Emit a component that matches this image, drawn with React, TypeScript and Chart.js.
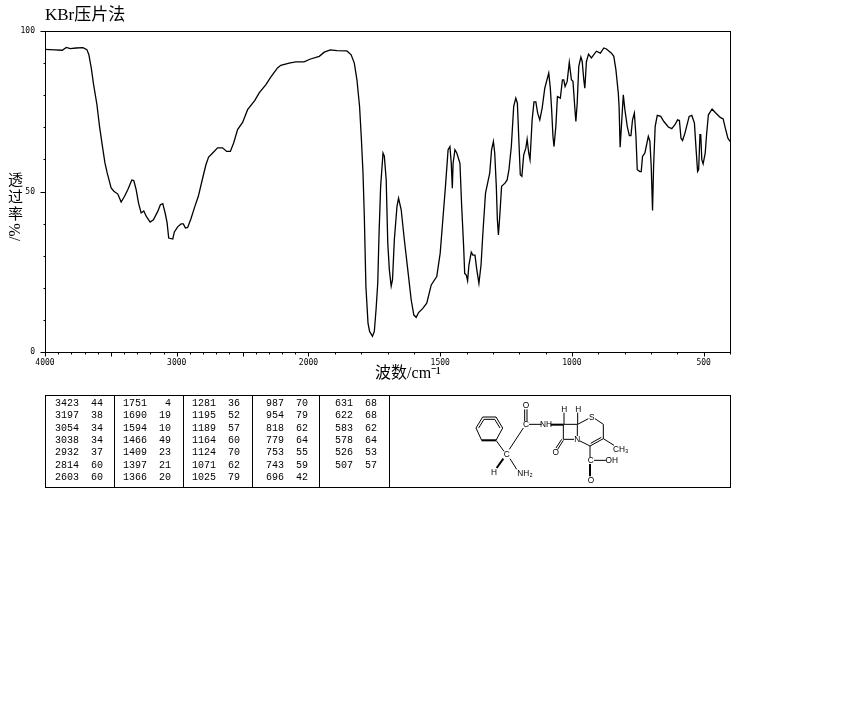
import React, { useEffect, useRef } from "react";
import { Chart, LinearScale, registerables } from "chart.js";

Chart.register(...registerables);

const wavenumbers = [
  4000, 3965, 3927, 3869, 3838, 3808, 3763, 3712, 3682, 3667, 3649, 3631, 3606, 3586, 3566, 3545, 3528, 3498, 3477, 3447,
  3422, 3396, 3371, 3341, 3326, 3308, 3290, 3270, 3250, 3232, 3202, 3177, 3144, 3124, 3106, 3088, 3073, 3061, 3030, 3018,
  2993, 2967, 2950, 2934, 2917, 2892, 2866, 2836, 2803, 2778, 2758, 2727, 2690, 2652, 2621, 2593, 2568, 2538, 2500, 2462,
  2407, 2374, 2323, 2285, 2235, 2210, 2147, 2096, 2033, 1995, 1959, 1940, 1917, 1892, 1854, 1838, 1826, 1816, 1806, 1799,
  1793, 1788, 1782, 1774, 1768, 1757, 1750, 1743, 1737, 1732, 1726, 1717, 1712, 1705, 1699, 1693, 1686, 1681, 1674, 1664,
  1658, 1648, 1636, 1623, 1610, 1600, 1591, 1582, 1566, 1551, 1534, 1513, 1500, 1490, 1480, 1470, 1463, 1458, 1454, 1451,
  1444, 1437, 1425, 1419, 1411, 1407, 1401, 1396, 1391, 1382, 1376, 1368, 1361, 1353, 1345, 1338, 1328, 1312, 1305, 1298,
  1293, 1287, 1283, 1279, 1274, 1267, 1254, 1246, 1239, 1230, 1221, 1213, 1207, 1201, 1196, 1190, 1183, 1175, 1170, 1164,
  1159, 1151, 1144, 1137, 1130, 1122, 1113, 1103, 1088, 1082, 1077, 1072, 1068, 1061, 1055, 1044, 1036, 1031, 1026, 1018,
  1010, 1002, 996, 989, 985, 980, 974, 966, 961, 955, 951, 945, 937, 926, 907, 892, 879, 869, 850, 841,
  833, 824, 821, 817, 813, 805, 799, 790, 782, 776, 770, 763, 757, 752, 742, 737, 732, 723, 710, 704,
  699, 694, 690, 684, 676, 663, 651, 634, 621, 609, 599, 592, 586, 580, 571, 555, 545, 535, 529, 523,
  519, 514, 511, 507, 502, 494, 489, 482, 468, 456, 437, 426, 418, 408, 400,
];

const transmittance = [
  94.3, 94.2, 94.1, 94.0, 94.9, 94.5, 94.7, 94.8, 94.2, 92.6, 88.5, 83.3, 77.1, 70.3, 64.6, 58.9, 55.8, 51.1, 50.1, 49.2,
  46.7, 48.5, 50.6, 53.6, 53.4, 50.6, 46.4, 43.3, 43.9, 42.3, 40.5, 41.2, 43.8, 45.9, 46.2, 43.3, 40.2, 35.5, 35.2, 37.4,
  39.0, 39.9, 39.9, 38.6, 38.8, 41.5, 44.9, 48.5, 54.2, 58.4, 60.7, 62.0, 63.6, 63.6, 62.5, 62.5, 65.1, 69.3, 71.5, 75.5,
  78.4, 80.7, 83.3, 85.7, 88.5, 89.3, 90.0, 90.4, 90.4, 91.2, 92.1, 93.4, 94.1, 93.9, 93.8, 92.6, 90.0, 84.8, 76.5, 66.1,
  55.8, 42.3, 20.5, 9.0, 6.4, 4.9, 6.4, 13.7, 21.5, 37.1, 51.6, 62.0, 61.0, 53.7, 34.0, 25.6, 20.5, 22.5, 35.0, 45.4,
  47.9, 44.3, 34.9, 25.6, 16.2, 11.5, 10.8, 12.3, 13.6, 15.2, 20.9, 23.5, 30.8, 41.2, 51.6, 63.0, 64.0, 58.8, 51.0, 58.8,
  63.0, 62.0, 58.8, 46.4, 32.8, 24.5, 24.0, 22.2, 27.1, 31.1, 30.2, 30.2, 25.6, 21.4, 27.1, 37.0, 49.5, 55.7, 63.0, 65.6,
  62.0, 51.6, 41.2, 36.5, 42.2, 51.6, 52.6, 53.6, 56.8, 64.0, 76.5, 79.1, 77.5, 65.1, 55.2, 54.7, 61.4, 63.5, 66.3, 62.0,
  59.9, 72.3, 77.9, 77.9, 74.4, 72.3, 76.0, 82.2, 86.9, 82.2, 75.5, 67.2, 64.0, 70.3, 79.6, 79.1, 84.8, 84.8, 82.7, 84.3,
  90.2, 84.8, 84.3, 76.0, 71.8, 77.5, 89.0, 91.9, 90.5, 84.8, 82.2, 90.5, 92.8, 91.6, 93.7, 93.1, 94.7, 94.4, 93.1, 92.1,
  87.9, 80.7, 76.5, 63.8, 69.2, 80.1, 75.5, 70.3, 67.4, 67.4, 72.3, 74.4, 67.2, 56.8, 56.2, 56.2, 60.9, 62.0, 67.2, 65.6,
  57.8, 44.1, 57.8, 70.3, 73.7, 73.4, 71.8, 70.1, 69.6, 70.8, 72.3, 72.1, 66.6, 65.9, 68.2, 73.4, 73.7, 71.3, 63.5, 56.2,
  56.8, 67.7, 67.7, 59.9, 58.6, 62.0, 67.7, 73.9, 75.7, 74.6, 73.1, 72.6, 69.8, 66.6, 65.6,
];

const labelledWavenumbers = [4000, 3000, 2000, 1500, 1000, 500];
const majorWavenumberTicks = [4000, 3500, 3000, 2500, 2000, 1500, 1000, 500];
const minorWavenumberTicks = [
  3900, 3800, 3700, 3600, 3400, 3300, 3200, 3100, 2900, 2800, 2700, 2600, 2400, 2300, 2200, 2100,
  1900, 1800, 1700, 1600, 1400, 1300, 1200, 1100, 900, 800, 700, 600, 400,
];
const majorPercentTicks = [0, 50, 100];
const minorPercentTicks = [10, 20, 30, 40, 60, 70, 80, 90];

const peakWaves = [
  [3423, 3197, 3054, 3038, 2932, 2814, 2603],
  [1751, 1690, 1594, 1466, 1409, 1397, 1366],
  [1281, 1195, 1189, 1164, 1124, 1071, 1025],
  [987, 954, 818, 779, 753, 743, 696],
  [631, 622, 583, 578, 526, 507],
];
const peakValues = [
  [44, 38, 34, 34, 37, 60, 60],
  [4, 19, 10, 49, 23, 21, 20],
  [36, 52, 57, 60, 70, 62, 79],
  [70, 79, 62, 64, 55, 59, 42],
  [68, 68, 62, 64, 53, 57],
];

const titleText = "KBr压片法";
const xTitleText = "波数/cm⁻¹";
const yTitleChars = ["透", "过", "率"];
const yTitleUnit = "/%";

class SpectrumScale extends LinearScale {
  static id = "spectrum";
  static defaults = LinearScale.defaults;
  private unit(v: number) {
    return v >= 2000 ? (4000 - v) / 2 : 1000 + (2000 - v);
  }
  getPixelForValue(v: number) {
    return this.left + (this.unit(v) / 2600) * this.width;
  }
  getValueForPixel(px: number) {
    const u = ((px - this.left) / this.width) * 2600;
    return u <= 1000 ? 4000 - u * 2 : 2000 - (u - 1000);
  }
}
Chart.register(SpectrumScale);

const frameAndTicks = {
  id: "frameAndTicks",
  afterDatasetsDraw(chart: any) {
    const { ctx, chartArea: a, scales } = chart;
    const left = Math.round(a.left) + 0.5;
    const top = Math.round(a.top) + 0.5;
    const right = Math.round(a.right) + 0.5;
    const bottom = Math.round(a.bottom) + 0.5;
    ctx.save();
    ctx.strokeStyle = "#000";
    ctx.lineWidth = 1;
    ctx.strokeRect(left, top, right - left, bottom - top);
    ctx.beginPath();
    const xt = (v: number, len: number) => {
      const p = Math.round(scales.x.getPixelForValue(v)) + 0.5;
      ctx.moveTo(p, bottom);
      ctx.lineTo(p, bottom + len);
    };
    const yt = (v: number, len: number) => {
      const p = Math.round(scales.y.getPixelForValue(v)) + 0.5;
      ctx.moveTo(left, p);
      ctx.lineTo(left - len, p);
    };
    majorWavenumberTicks.forEach((v) => xt(v, 4));
    minorWavenumberTicks.forEach((v) => xt(v, 2));
    majorPercentTicks.forEach((v) => yt(v, 5));
    minorPercentTicks.forEach((v) => yt(v, 2));
    ctx.stroke();

    ctx.fillStyle = "#000";
    ctx.textBaseline = "middle";
    ctx.textAlign = "center";
    ctx.font = "16px 'Liberation Serif','Noto Sans CJK SC'";
    ctx.fillText(xTitleText, 408, 374);
    ctx.font = "15px 'Noto Sans CJK SC'";
    yTitleChars.forEach((c, i) => ctx.fillText(c, 15.5, 179 + i * 17));
    ctx.translate(15.5, 232);
    ctx.rotate(-Math.PI / 2);
    ctx.font = "16px 'Liberation Serif'";
    ctx.fillText(yTitleUnit, 0, 0);
    ctx.restore();
  },
};

const tableFont = "'Liberation Mono', monospace";
const separators = [114, 183, 252, 319, 389];
const waveLeft = [55, 123, 192, 266, 335];
const valueRight = [103, 171, 240, 308, 377];
const rowTop = (i: number) => 399 + i * 12.35;

type Label = [string, number, number];
const atomLabels: Label[] = [
  ["C", 140, 187], ["H", 102, 241], ["NH₂", 195, 243], ["C", 198, 97], ["O", 198, 40], ["NH", 258, 97],
  ["H", 313, 52], ["H", 355, 52], ["S", 395, 75], ["N", 352, 142], ["O", 287, 180], ["CH₃", 482, 172],
  ["C", 392, 205], ["OH", 455, 205], ["O", 393, 265],
];
const bonds: number[][] = [
  [48, 108, 68, 75], [68, 75, 108, 75], [108, 75, 128, 108], [128, 108, 108, 145], [108, 145, 65, 145], [65, 145, 48, 108],
  [56, 108, 72, 82], [72, 82, 104, 82], [104, 82, 120, 108], [108, 145, 132, 178], [150, 200, 170, 232],
  [148, 172, 190, 108], [194, 52, 194, 88], [201, 52, 201, 88], [207, 97, 245, 97], [312, 62, 312, 97],
  [310, 97, 352, 97], [352, 97, 352, 132], [342, 142, 310, 142], [310, 142, 310, 97], [353, 62, 353, 97],
  [353, 97, 385, 80], [405, 80, 430, 97], [430, 97, 430, 140], [430, 140, 390, 162], [424, 136, 392, 154], [390, 162, 360, 147],
  [430, 140, 462, 160], [390, 162, 390, 195], [402, 205, 438, 205], [310, 145, 293, 172], [305, 142, 288, 168],
];
const heavyBonds: number[][] = [
  [65, 145, 108, 145], [272, 98, 310, 98], [390, 216, 390, 253], [130, 200, 110, 228],
];

function Molecule() {
  return (
    <svg
      width={190}
      height={98}
      viewBox="0 0 570 294"
      style={{ position: "absolute", left: 460, top: 392 }}
    >
      {bonds.map((b, i) => (
        <line key={i} x1={b[0]} y1={b[1]} x2={b[2]} y2={b[3]} stroke="#000" strokeWidth={3} />
      ))}
      {heavyBonds.map((b, i) => (
        <line key={i} x1={b[0]} y1={b[1]} x2={b[2]} y2={b[3]} stroke="#000" strokeWidth={6} />
      ))}
      {atomLabels.map(([t, x, y], i) => (
        <text
          key={i}
          x={x}
          y={y}
          textAnchor="middle"
          dominantBaseline="central"
          fontFamily="'Liberation Sans', sans-serif"
          fontSize={25}
          fill="#000"
        >
          {t}
        </text>
      ))}
    </svg>
  );
}

function PeakTable() {
  const cell = { position: "absolute" as const, fontFamily: tableFont, fontSize: 10, lineHeight: "10px", color: "#000" };
  return (
    <>
      <div
        style={{
          position: "absolute",
          left: 45,
          top: 395,
          width: 684,
          height: 91,
          border: "1px solid #000",
        }}
      />
      {separators.map((x) => (
        <div key={x} style={{ position: "absolute", left: x, top: 395, width: 1, height: 92, background: "#000" }} />
      ))}
      {peakWaves.map((col, c) =>
        col.map((w, r) => (
          <React.Fragment key={`${c}-${r}`}>
            <div style={{ ...cell, left: waveLeft[c], top: rowTop(r) }}>{w}</div>
            <div style={{ ...cell, left: valueRight[c] - 40, width: 40, textAlign: "right", top: rowTop(r) }}>
              {peakValues[c][r]}
            </div>
          </React.Fragment>
        )),
      )}
    </>
  );
}

export default function App() {
  const ref = useRef<HTMLCanvasElement>(null);
  useEffect(() => {
    const chart = new Chart(ref.current!, {
      type: "line",
      data: {
        datasets: [
          {
            data: wavenumbers.map((x, i) => ({ x, y: transmittance[i] })),
            borderColor: "#000",
            borderWidth: 1.3,
            pointRadius: 0,
            tension: 0,
            fill: false,
          },
        ],
      },
      plugins: [frameAndTicks],
      options: {
        responsive: false,
        animation: false,
        events: [],
        layout: { padding: { top: 5, left: 0, right: 120, bottom: 324 } },
        plugins: {
          legend: { display: false },
          tooltip: { enabled: false },
          title: {
            display: true,
            text: titleText,
            align: "start",
            fullSize: false,
            color: "#000",
            font: { size: 17, weight: "normal", family: "'Liberation Serif','Noto Sans CJK SC'" },
            padding: { top: 0, bottom: 5.6 },
          },
        },
        scales: {
          x: {
            type: "spectrum" as any,
            min: 400,
            max: 4000,
            grid: { display: false, drawTicks: false },
            border: { display: false },
            afterFit: (s: any) => {
              s.height = 33;
            },
            afterBuildTicks: (s: any) => {
              s.ticks = labelledWavenumbers.map((value) => ({ value }));
            },
            ticks: {
              autoSkip: false,
              maxRotation: 0,
              padding: 6,
              color: "#000",
              font: { size: 8, family: "'DejaVu Sans Mono'" },
              callback: (v: any) => String(v),
            },
          },
          y: {
            type: "linear",
            min: 0,
            max: 100,
            grid: { display: false, drawTicks: false },
            border: { display: false },
            afterFit: (s: any) => {
              s.width = 45;
            },
            ticks: {
              stepSize: 50,
              padding: 10,
              color: "#000",
              font: { size: 8, family: "'DejaVu Sans Mono'" },
            },
          },
        },
      } as any,
    });
    return () => chart.destroy();
  }, []);
  return (
    <div style={{ position: "absolute", left: 0, top: 0, width: 850, height: 709, background: "#fff" }}>
      <canvas ref={ref} width={850} height={709} style={{ position: "absolute", left: 0, top: 0, width: 850, height: 709 }} />
      <PeakTable />
      <Molecule />
    </div>
  );
}
